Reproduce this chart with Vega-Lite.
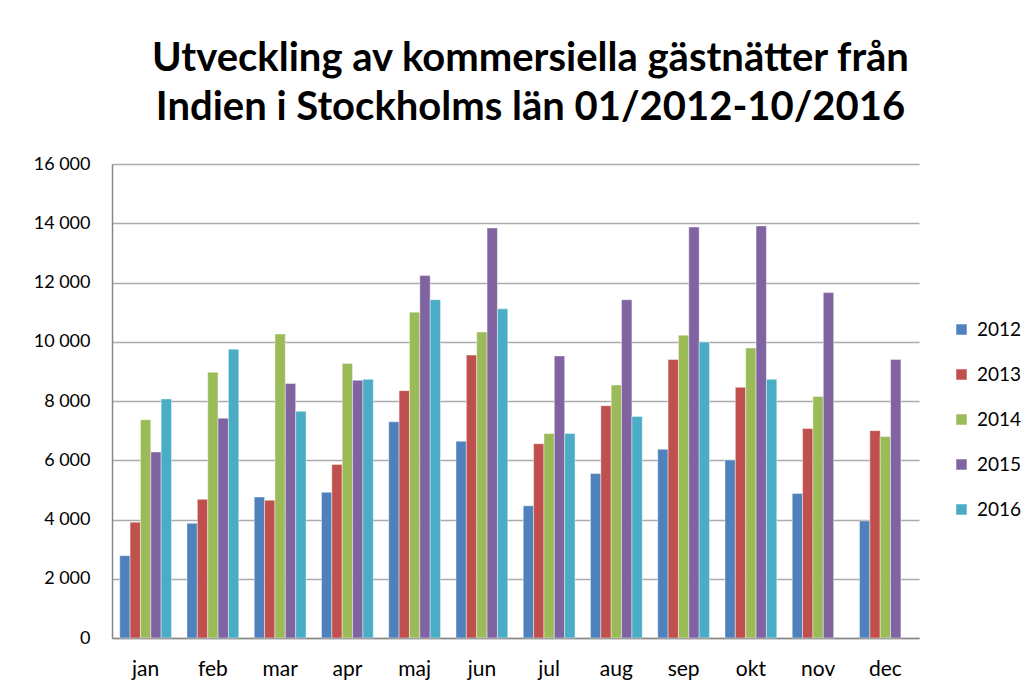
{
  "$schema": "https://vega.github.io/schema/vega-lite/v6.json",
  "width": 807,
  "height": 474,
  "autosize": {"type": "none"},
  "padding": {"left": 112, "top": 164, "right": 117, "bottom": 51},
  "background": "white",
  "title": {
    "text": ["Utveckling av kommersiella gästnätter från", "Indien i Stockholms län 01/2012-10/2016"],
    "font": "Lato",
    "fontSize": 40,
    "fontWeight": "bold",
    "color": "black",
    "anchor": "middle",
    "dx": 15,
    "offset": 27,
    "lineHeight": 49
  },
  "data": {
    "values": [
      {"month": "jan", "year": "2012", "value": 2780},
      {"month": "jan", "year": "2013", "value": 3910},
      {"month": "jan", "year": "2014", "value": 7370},
      {"month": "jan", "year": "2015", "value": 6280},
      {"month": "jan", "year": "2016", "value": 8070},
      {"month": "feb", "year": "2012", "value": 3870},
      {"month": "feb", "year": "2013", "value": 4680},
      {"month": "feb", "year": "2014", "value": 8970},
      {"month": "feb", "year": "2015", "value": 7420},
      {"month": "feb", "year": "2016", "value": 9750},
      {"month": "mar", "year": "2012", "value": 4760},
      {"month": "mar", "year": "2013", "value": 4650},
      {"month": "mar", "year": "2014", "value": 10260},
      {"month": "mar", "year": "2015", "value": 8590},
      {"month": "mar", "year": "2016", "value": 7650},
      {"month": "apr", "year": "2012", "value": 4920},
      {"month": "apr", "year": "2013", "value": 5860},
      {"month": "apr", "year": "2014", "value": 9270},
      {"month": "apr", "year": "2015", "value": 8700},
      {"month": "apr", "year": "2016", "value": 8730},
      {"month": "maj", "year": "2012", "value": 7300},
      {"month": "maj", "year": "2013", "value": 8350},
      {"month": "maj", "year": "2014", "value": 11000},
      {"month": "maj", "year": "2015", "value": 12240},
      {"month": "maj", "year": "2016", "value": 11420},
      {"month": "jun", "year": "2012", "value": 6640},
      {"month": "jun", "year": "2013", "value": 9550},
      {"month": "jun", "year": "2014", "value": 10330},
      {"month": "jun", "year": "2015", "value": 13840},
      {"month": "jun", "year": "2016", "value": 11110},
      {"month": "jul", "year": "2012", "value": 4460},
      {"month": "jul", "year": "2013", "value": 6560},
      {"month": "jul", "year": "2014", "value": 6900},
      {"month": "jul", "year": "2015", "value": 9520},
      {"month": "jul", "year": "2016", "value": 6900},
      {"month": "aug", "year": "2012", "value": 5550},
      {"month": "aug", "year": "2013", "value": 7840},
      {"month": "aug", "year": "2014", "value": 8540},
      {"month": "aug", "year": "2015", "value": 11420},
      {"month": "aug", "year": "2016", "value": 7480},
      {"month": "sep", "year": "2012", "value": 6370},
      {"month": "sep", "year": "2013", "value": 9400},
      {"month": "sep", "year": "2014", "value": 10220},
      {"month": "sep", "year": "2015", "value": 13870},
      {"month": "sep", "year": "2016", "value": 9990},
      {"month": "okt", "year": "2012", "value": 6010},
      {"month": "okt", "year": "2013", "value": 8460},
      {"month": "okt", "year": "2014", "value": 9790},
      {"month": "okt", "year": "2015", "value": 13910},
      {"month": "okt", "year": "2016", "value": 8730},
      {"month": "nov", "year": "2012", "value": 4880},
      {"month": "nov", "year": "2013", "value": 7070},
      {"month": "nov", "year": "2014", "value": 8150},
      {"month": "nov", "year": "2015", "value": 11660},
      {"month": "dec", "year": "2012", "value": 3950},
      {"month": "dec", "year": "2013", "value": 7000},
      {"month": "dec", "year": "2014", "value": 6800},
      {"month": "dec", "year": "2015", "value": 9400}
    ]
  },
  "mark": {"type": "bar", "stroke": "white", "strokeWidth": 0.6, "strokeOpacity": 0.7},
  "encoding": {
    "x": {
      "field": "month",
      "type": "nominal",
      "sort": ["jan", "feb", "mar", "apr", "maj", "jun", "jul", "aug", "sep", "okt", "nov", "dec"],
      "scale": {"paddingInner": 0.23, "paddingOuter": 0.115},
      "axis": {
        "title": null,
        "labelAngle": 0,
        "labelFont": "Lato",
        "labelFontSize": 21,
        "labelColor": "black",
        "labelPadding": 20,
        "ticks": false,
        "domainColor": "#868686",
        "domainWidth": 1.5
      }
    },
    "xOffset": {"field": "year", "type": "nominal", "scale": {"paddingInner": 0}},
    "y": {
      "field": "value",
      "type": "quantitative",
      "scale": {"domain": [0, 16000], "nice": false},
      "axis": {
        "title": null,
        "values": [0, 2000, 4000, 6000, 8000, 10000, 12000, 14000, 16000],
        "labelExpr": "replace(format(datum.value, ','), ',', ' ')",
        "labelFont": "Lato",
        "labelFontSize": 18,
        "labelColor": "black",
        "labelPadding": 22,
        "ticks": false,
        "domainColor": "#868686",
        "domainWidth": 1.5,
        "grid": true,
        "gridColor": "#ABABAB",
        "gridWidth": 1.5
      }
    },
    "color": {
      "field": "year",
      "type": "nominal",
      "scale": {
        "domain": ["2012", "2013", "2014", "2015", "2016"],
        "range": ["#4F81BD", "#C0504D", "#9BBB59", "#8064A2", "#4BACC6"]
      },
      "legend": {
        "title": null,
        "orient": "none",
        "legendX": 840,
        "legendY": 156,
        "symbolType": "square",
        "symbolSize": 110,
        "symbolStrokeWidth": 0,
        "labelFont": "Lato",
        "labelFontSize": 19,
        "labelColor": "black",
        "rowPadding": 25,
        "labelOffset": 6
      }
    }
  },
  "config": {
    "view": {"stroke": null}
  }
}
